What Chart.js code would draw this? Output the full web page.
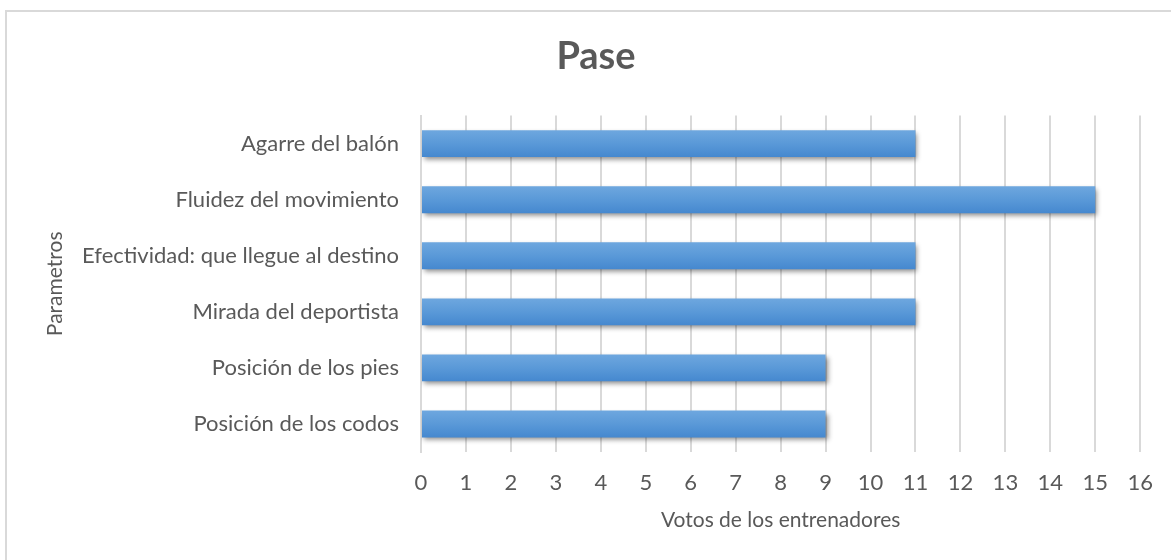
<!DOCTYPE html>
<html>
<head>
<meta charset="utf-8">
<script src="https://cdn.jsdelivr.net/npm/chart.js@4.4.1/dist/chart.umd.min.js"></script>
<style>
  html, body { margin: 0; padding: 0; background: #fff; }
  #wrap { width: 1171px; height: 560px; position: relative; }
</style>
</head>
<body>
<div id="wrap"><canvas id="chart" width="1171" height="560"></canvas></div>
<script>
const parametros = [
  'Agarre del balón',
  'Fluidez del movimiento',
  'Efectividad: que llegue al destino',
  'Mirada del deportista',
  'Posición de los pies',
  'Posición de los codos'
]
const votos = [11, 15, 11, 11, 9, 9]
const xMin = 0
const xMax = 16

const textColor = '#595959'
const gridColor = '#d9d9d9'
const fontFamily = 'Lato, "Open Sans", sans-serif'

// white background + light frame round the chart
const framePlugin = {
  id: 'frame',
  beforeDraw (chart) {
    const ctx = chart.ctx
    ctx.save()
    ctx.fillStyle = '#fff'
    ctx.fillRect(0, 0, chart.width, chart.height)
    ctx.strokeStyle = gridColor
    ctx.lineWidth = 2
    ctx.strokeRect(6, 11, chart.width + 20, chart.height + 20)
    ctx.restore()
  }
}

// gradient fill per bar and a soft drop shadow
const barStylePlugin = {
  id: 'barStyle',
  beforeDatasetsDraw (chart) {
    const ctx = chart.ctx
    chart.getDatasetMeta(0).data.forEach((bar) => {
      const top = bar.y - bar.height / 2
      const g = ctx.createLinearGradient(0, top, 0, top + bar.height)
      g.addColorStop(0, '#6ea7df')
      g.addColorStop(0.5, '#5a99d8')
      g.addColorStop(1, '#4588cf')
      // options are shared between bars, so give each its own copy
      bar.options = Object.assign({}, bar.options, { backgroundColor: g })
    })
    ctx.save()
    ctx.shadowColor = 'rgba(0,0,0,0.45)'
    ctx.shadowBlur = 5
    ctx.shadowOffsetX = 2
    ctx.shadowOffsetY = 3
  },
  afterDatasetsDraw (chart) {
    chart.ctx.restore()
  }
}

new Chart(document.getElementById('chart'), {
  type: 'bar',
  data: {
    labels: parametros,
    datasets: [{
      label: 'Votos',
      data: votos,
      backgroundColor: '#5b9bd5',
      borderWidth: 0,
      barPercentage: 0.96,
      categoryPercentage: 0.5
    }]
  },
  options: {
    indexAxis: 'y',
    responsive: false,
    animation: false,
    layout: { padding: { left: 49, right: 28, top: 0, bottom: 0 } },
    plugins: {
      legend: { display: false },
      tooltip: { enabled: false },
      title: {
        display: true,
        text: 'Pase',
        color: textColor,
        font: { family: fontFamily, size: 38, weight: 'bold' },
        padding: { top: 34, bottom: 36 }
      }
    },
    scales: {
      x: {
        min: xMin,
        max: xMax,
        afterFit (scale) { scale.height = 108 },
        ticks: {
          stepSize: 1,
          color: textColor,
          font: { family: fontFamily, size: 22 },
          padding: 18
        },
        grid: { color: gridColor, lineWidth: 2, drawTicks: false },
        border: { display: false },
        title: {
          display: true,
          text: 'Votos de los entrenadores',
          color: textColor,
          font: { family: fontFamily, size: 21 },
          padding: { top: 0, bottom: 27 }
        }
      },
      y: {
        afterFit (scale) { scale.width = 372 },
        ticks: {
          color: textColor,
          font: { family: fontFamily, size: 22 },
          padding: 22
        },
        grid: { display: false, drawTicks: false },
        border: { display: true, color: gridColor, width: 2 },
        title: {
          display: true,
          text: 'Parametros',
          color: textColor,
          font: { family: fontFamily, size: 21, lineHeight: 1 },
          padding: { top: -4 }
        }
      }
    }
  },
  plugins: [framePlugin, barStylePlugin]
})
</script>
</body>
</html>
